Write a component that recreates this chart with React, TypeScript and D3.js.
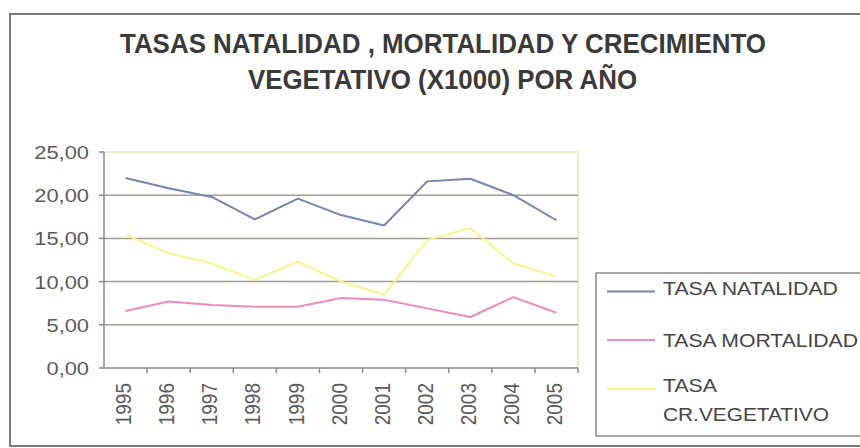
import React from "react";
import * as d3 from "d3";

const years = ["1995", "1996", "1997", "1998", "1999", "2000", "2001", "2002", "2003", "2004", "2005"];
const natalidad = [22.0, 20.8, 19.8, 17.2, 19.6, 17.7, 16.5, 21.6, 21.9, 20.0, 17.1];
const mortalidad = [6.6, 7.7, 7.3, 7.1, 7.1, 8.1, 7.9, 6.9, 5.9, 8.2, 6.4];
const vegetativo = [15.4, 13.3, 12.1, 10.2, 12.3, 10.0, 8.5, 14.8, 16.2, 12.1, 10.6];
const yTicks = [0, 5, 10, 15, 20, 25];
const titleLines = ["TASAS NATALIDAD , MORTALIDAD Y CRECIMIENTO", "VEGETATIVO (X1000) POR AÑO"];
const seriesNames = ["TASA NATALIDAD", "TASA MORTALIDAD", "TASA CR.VEGETATIVO"];
const seriesColors = ["#7186b0", "#f08ab8", "#f6f48a"];

const W = 860;
const H = 448;
const plot = { left: 104, right: 578, top: 152, bottom: 368 };
const FONT = "'Liberation Sans', Arial, sans-serif";
const TITLE_FONT = "'Liberation Sans Narrow', 'Arial Narrow', 'Liberation Sans', Arial, sans-serif";
const SX = 1.15;

export default function App() {
  const x = d3.scaleBand<string>().domain(years).range([plot.left, plot.right]);
  const y = d3.scaleLinear().domain([0, 25]).range([plot.bottom, plot.top]);
  const line = d3
    .line<number>()
    .x((_, i) => (x(years[i]) as number) + x.bandwidth() / 2)
    .y((d) => y(d));
  const series = [natalidad, mortalidad, vegetativo];
  const fmt = (v: number) => v.toFixed(2).replace(".", ",");

  const legendRows = [
    { lineY: 291.5, texts: [{ t: "TASA NATALIDAD", y: 295, w: 175 }] },
    { lineY: 340, texts: [{ t: "TASA MORTALIDAD", y: 346.5, w: 195 }] },
    {
      lineY: 389,
      texts: [
        { t: "TASA", y: 392, w: 54 },
        { t: "CR.VEGETATIVO", y: 420.5, w: 166 },
      ],
    },
  ];

  return (
    <div style={{ position: "fixed", left: 0, top: 0, width: W, height: H, background: "#fff" }}>
      <svg width={W} height={H} style={{ display: "block" }}>
        <rect x={0} y={0} width={W} height={H} fill="#fff" />
        <rect x={10} y={14} width={870} height={432} fill="#fff" stroke="#7a7a7a" strokeWidth={2} />

        {/* title */}
        <text x={120} y={53} textLength={646} lengthAdjust="spacingAndGlyphs" fontFamily={TITLE_FONT} fontWeight="bold" fontSize={28} fill="#3a3a3a">
          {titleLines[0]}
        </text>
        <text x={248} y={89} textLength={389} lengthAdjust="spacingAndGlyphs" fontFamily={TITLE_FONT} fontWeight="bold" fontSize={28} fill="#3a3a3a">
          {titleLines[1]}
        </text>

        {/* plot area */}
        <line x1={plot.left} x2={plot.right} y1={plot.top} y2={plot.top} stroke="#eeeec4" strokeWidth={2} />
        <line x1={plot.right} x2={plot.right} y1={plot.top} y2={plot.bottom} stroke="#eeeec4" strokeWidth={2} />
        {yTicks.slice(1, -1).map((t) => (
          <line key={t} x1={plot.left} x2={plot.right} y1={y(t)} y2={y(t)} stroke="#a0a096" strokeWidth={1.5} />
        ))}
        {/* axes */}
        <line x1={plot.left} x2={plot.left} y1={plot.top} y2={plot.bottom} stroke="#8a8a8a" strokeWidth={1.5} />
        <line x1={plot.left} x2={plot.right} y1={plot.bottom} y2={plot.bottom} stroke="#8a8a8a" strokeWidth={1.5} />
        {yTicks.map((t) => (
          <g key={t}>
            <line x1={plot.left - 5} x2={plot.left} y1={y(t)} y2={y(t)} stroke="#8a8a8a" strokeWidth={1.5} />
            <g transform={`translate(89,${y(t) + 7}) scale(${SX},1)`}>
              <text textAnchor="end" fontFamily={FONT} fontSize={19} fill="#5a5a5a">
                {fmt(t)}
              </text>
            </g>
          </g>
        ))}
        {years.map((yr, i) => {
          const x0 = x(yr) as number;
          return (
            <g key={yr}>
              {i > 0 && <line x1={x0} x2={x0} y1={plot.bottom} y2={plot.bottom + 5} stroke="#8a8a8a" strokeWidth={1.5} />}
              <g transform={`translate(${x0 + x.bandwidth() / 2 - 2},383) scale(${SX},1) rotate(-90)`}>
                <text textAnchor="end" dy="0.35em" fontFamily={FONT} fontSize={19} fill="#5a5a5a">
                  {yr}
                </text>
              </g>
            </g>
          );
        })}
        <line x1={plot.right} x2={plot.right} y1={plot.bottom} y2={plot.bottom + 5} stroke="#8a8a8a" strokeWidth={1.5} />

        {/* series */}
        {series.map((s, i) => (
          <path key={i} d={line(s) || ""} fill="none" stroke={seriesColors[i]} strokeWidth={2} strokeLinejoin="round" />
        ))}

        {/* legend */}
        <rect x={596} y={273} width={300} height={163} fill="#fff" stroke="#8a8a8a" strokeWidth={1.5} />
        {legendRows.map((r, i) => (
          <g key={i}>
            <line x1={607} x2={655} y1={r.lineY} y2={r.lineY} stroke={seriesColors[i]} strokeWidth={2} />
            {r.texts.map((tt) => (
              <text key={tt.t} x={663} y={tt.y} textLength={tt.w} lengthAdjust="spacingAndGlyphs" fontFamily={FONT} fontSize={18} fill="#444">
                {tt.t}
              </text>
            ))}
          </g>
        ))}
      </svg>
    </div>
  );
}
